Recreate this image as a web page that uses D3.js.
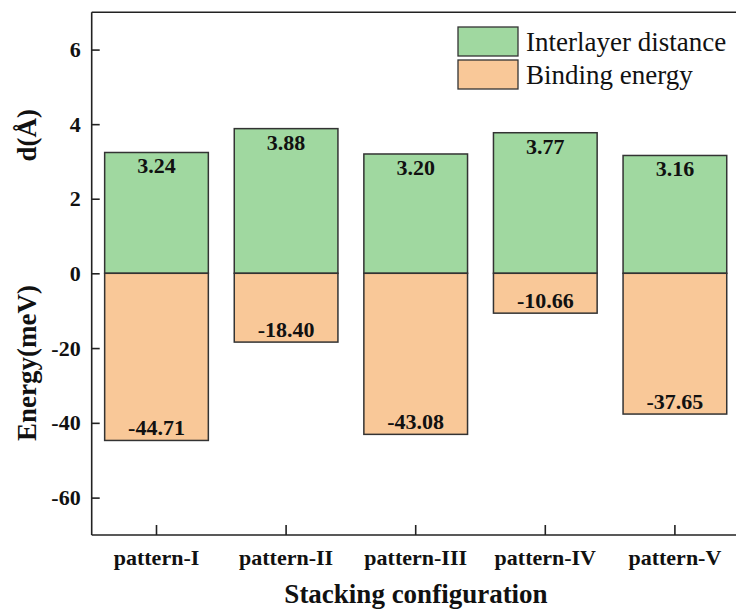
<!DOCTYPE html>
<html>
<head>
<meta charset="utf-8">
<script src="https://cdn.jsdelivr.net/npm/d3@7/dist/d3.min.js"></script>
<style>
  html, body { margin: 0; padding: 0; background: #fff; }
  svg { display: block; }
  text { font-family: "Liberation Serif", "Times New Roman", serif; }
</style>
</head>
<body>
<svg id="chart" width="736" height="609"></svg>
<script>
// Stacking configurations and their computed properties
const patterns = ["pattern-I", "pattern-II", "pattern-III", "pattern-IV", "pattern-V"];
const interlayerDistance = [3.24, 3.88, 3.20, 3.77, 3.16];      // d (Å)
const bindingEnergy = [-44.71, -18.40, -43.08, -10.66, -37.65];  // meV
const distanceTicks = [0, 2, 4, 6];
const energyTicks = [-60, -40, -20];
const legendLabels = ["Interlayer distance", "Binding energy"];

(function () {
const W = 736, H = 609;
const plotLeft = 91.7, plotTop = 12.3, zeroY = 273.3, plotBottom = 535;
const step = 129.6;

const greenFill = "#a0d8a0", orangeFill = "#f9c898", barStroke = "#333";

const svg = d3.select("#chart");

// Upper half: interlayer distance (0..7 Å); lower half: energy (-70..0 meV)
const yD = d3.scaleLinear().domain([0, 7]).range([zeroY, plotTop]);
const yE = d3.scaleLinear().domain([-70, 0]).range([plotBottom, zeroY]);

const x = d3.scaleBand()
  .domain(patterns)
  .range([plotLeft, plotLeft + step * patterns.length])
  .paddingInner(0.2)
  .paddingOuter(0.1);

// Bars: distance (green, above zero)
svg.append("g").selectAll("rect")
  .data(patterns)
  .join("rect")
  .attr("x", d => x(d))
  .attr("width", x.bandwidth())
  .attr("y", (d, i) => yD(interlayerDistance[i]))
  .attr("height", (d, i) => yD(0) - yD(interlayerDistance[i]))
  .attr("fill", greenFill)
  .attr("stroke", barStroke)
  .attr("stroke-width", 1.5);

// Bars: binding energy (orange, below zero)
svg.append("g").selectAll("rect")
  .data(patterns)
  .join("rect")
  .attr("x", d => x(d))
  .attr("width", x.bandwidth())
  .attr("y", yE(0))
  .attr("height", (d, i) => yE(bindingEnergy[i]) - yE(0))
  .attr("fill", orangeFill)
  .attr("stroke", barStroke)
  .attr("stroke-width", 1.5);

// Value labels
svg.append("g").selectAll("text")
  .data(patterns)
  .join("text")
  .attr("x", d => x(d) + x.bandwidth() / 2)
  .attr("y", (d, i) => yD(interlayerDistance[i]) + 21)
  .attr("text-anchor", "middle")
  .attr("font-weight", "bold")
  .attr("font-size", 22)
  .attr("fill", "#111")
  .text((d, i) => interlayerDistance[i].toFixed(2));

svg.append("g").selectAll("text")
  .data(patterns)
  .join("text")
  .attr("x", d => x(d) + x.bandwidth() / 2)
  .attr("y", (d, i) => yE(bindingEnergy[i]) - 5)
  .attr("text-anchor", "middle")
  .attr("font-weight", "bold")
  .attr("font-size", 22)
  .attr("fill", "#111")
  .text((d, i) => bindingEnergy[i].toFixed(2));

// Frame line along the top
svg.append("line").attr("x1", plotLeft).attr("x2", W).attr("y1", plotTop).attr("y2", plotTop)
  .attr("stroke", "#222").attr("stroke-width", 1.6);

// Left axis (two scales sharing one line, ticks inward)
const fmt = d => d3.format("d")(d).replace("\u2212", "-");
const axD = svg.append("g").attr("transform", `translate(${plotLeft},0)`)
  .call(d3.axisRight(yD).tickValues(distanceTicks).tickSize(8).tickFormat(fmt));
const axE = svg.append("g").attr("transform", `translate(${plotLeft},0)`)
  .call(d3.axisRight(yE).tickValues(energyTicks).tickSize(8).tickFormat(fmt));
[axD, axE].forEach(ax => {
  ax.select(".domain").remove();
  ax.selectAll("line").attr("stroke", "#222").attr("stroke-width", 1.6);
  ax.selectAll("text")
    .attr("x", -11).attr("text-anchor", "end")
    .attr("font-family", "Liberation Serif, serif")
    .attr("font-weight", "bold").attr("font-size", 22).attr("fill", "#111");
});
svg.append("line").attr("x1", plotLeft).attr("x2", plotLeft).attr("y1", plotTop).attr("y2", plotBottom)
  .attr("stroke", "#222").attr("stroke-width", 1.6);

// Bottom axis (ticks inward)
const axX = svg.append("g").attr("transform", `translate(0,${plotBottom})`)
  .call(d3.axisTop(x).tickSize(10));
axX.select(".domain").remove();
axX.selectAll("line").attr("stroke", "#222").attr("stroke-width", 1.6);
axX.selectAll("text")
  .attr("y", 30).attr("dy", 0)
  .attr("font-family", "Liberation Serif, serif")
  .attr("font-weight", "bold").attr("font-size", 22).attr("fill", "#111");
svg.append("line").attr("x1", plotLeft).attr("x2", W).attr("y1", plotBottom).attr("y2", plotBottom)
  .attr("stroke", "#222").attr("stroke-width", 1.6);

// Axis titles
svg.append("text")
  .attr("x", 416).attr("y", 603)
  .attr("text-anchor", "middle")
  .attr("font-weight", "bold").attr("font-size", 27).attr("fill", "#111")
  .text("Stacking configuration");

svg.append("text")
  .attr("transform", `translate(36,${yD(3.7)}) rotate(-90)`)
  .attr("text-anchor", "middle")
  .attr("font-weight", "bold").attr("font-size", 27).attr("fill", "#111")
  .text("d(Å)");

svg.append("text")
  .attr("transform", `translate(36,${yE(-24)}) rotate(-90)`)
  .attr("text-anchor", "middle")
  .attr("font-weight", "bold").attr("font-size", 27).attr("fill", "#111")
  .text("Energy(meV)");

// Legend
const legend = svg.append("g").attr("transform", "translate(458,27)");
const legendFills = [greenFill, orangeFill];
legend.selectAll("rect")
  .data(legendLabels)
  .join("rect")
  .attr("x", 0)
  .attr("y", (d, i) => i * 33)
  .attr("width", 60).attr("height", 29)
  .attr("fill", (d, i) => legendFills[i])
  .attr("stroke", barStroke).attr("stroke-width", 1.3);
legend.selectAll("text")
  .data(legendLabels)
  .join("text")
  .attr("x", 68)
  .attr("y", (d, i) => i * 33 + 24)
  .attr("font-size", 27).attr("fill", "#111")
  .text(d => d);
})();
</script>
</body>
</html>
